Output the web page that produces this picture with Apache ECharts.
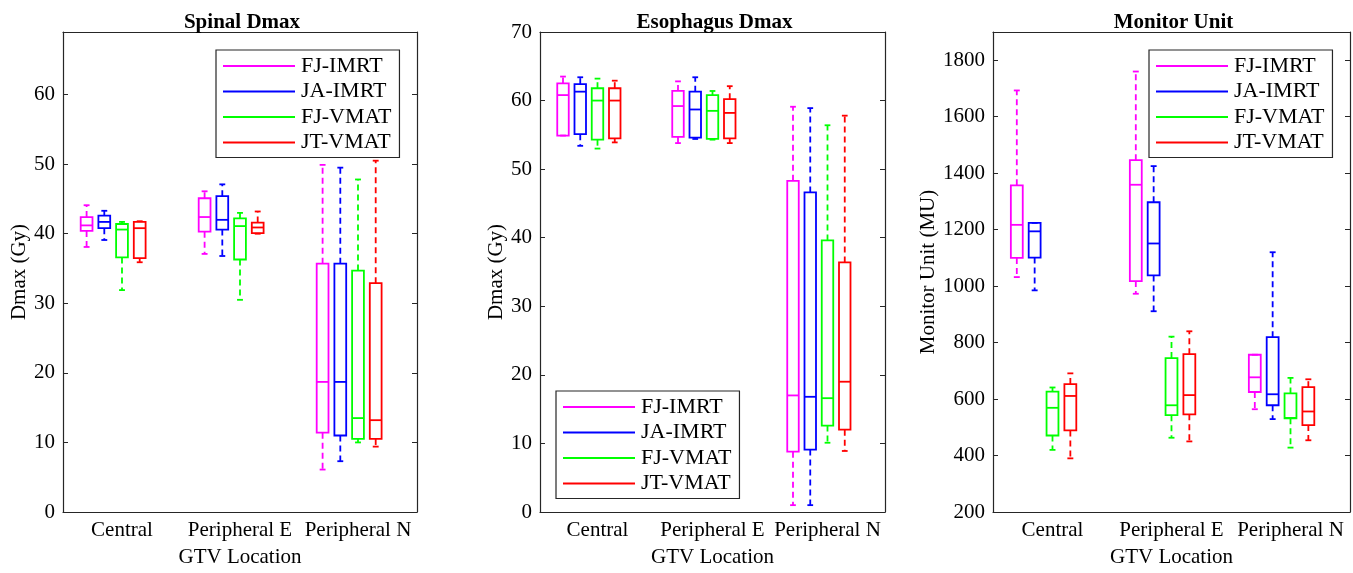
<!DOCTYPE html>
<html>
<head>
<meta charset="utf-8">
<script src="https://cdn.jsdelivr.net/npm/echarts@6/dist/echarts.min.js"></script>
<style>
  html, body { margin: 0; padding: 0; background: #fff; }
  #main { width: 1353px; height: 573px; }
</style>
</head>
<body>
<div id="main"></div>
<script>
const categories = ['Central', 'Peripheral E', 'Peripheral N']
const seriesNames = ['FJ-IMRT', 'JA-IMRT', 'FJ-VMAT', 'JT-VMAT']
const colors = ['#ff00ff', '#0000ff', '#00ff00', '#ff0000']

// each row: [lower whisker, Q1, median, Q3, upper whisker] for one GTV location
const spinalFJIMRT = [[38.1, 40.4, 41.2, 42.4, 44.1], [37.1, 40.3, 42.4, 45.1, 46.1], [6.1, 11.4, 18.7, 35.7, 49.9]]
const spinalJAIMRT = [[39.1, 40.8, 41.7, 42.6, 43.3], [36.8, 40.6, 42.0, 45.4, 47.1], [7.3, 11.0, 18.7, 35.7, 49.5]]
const spinalFJVMAT = [[31.9, 36.6, 40.6, 41.4, 41.7], [30.5, 36.3, 41.1, 42.2, 43.0], [10.0, 10.5, 13.5, 34.7, 47.8]]
const spinalJTVMAT = [[35.9, 36.5, 40.8, 41.7, 41.8], [40.0, 40.1, 40.9, 41.6, 43.2], [9.4, 10.5, 13.2, 32.9, 50.5]]

const esoFJIMRT = [[54.9, 54.9, 60.8, 62.5, 63.5], [53.8, 54.7, 59.2, 61.4, 62.8], [1.0, 8.8, 17.0, 48.3, 59.1]]
const esoJAIMRT = [[53.4, 55.1, 61.3, 62.4, 63.4], [54.4, 54.6, 58.7, 61.3, 63.4], [1.0, 9.1, 16.8, 46.6, 58.9]]
const esoFJVMAT = [[53.0, 54.3, 60.0, 61.8, 63.2], [54.3, 54.4, 58.5, 60.8, 61.4], [10.1, 12.6, 16.6, 39.6, 56.4]]
const esoJTVMAT = [[53.9, 54.5, 60.0, 61.8, 62.9], [53.8, 54.5, 58.2, 60.2, 62.1], [8.9, 12.0, 19.0, 36.4, 57.8]]

const muFJIMRT = [[1032, 1100, 1217, 1357, 1693], [973, 1018, 1359, 1446, 1760], [564, 625, 677, 757, 757]]
const muJAIMRT = [[985, 1101, 1194, 1224, 1224], [911, 1038, 1151, 1297, 1425], [529, 578, 617, 819, 1120]]
const muFJVMAT = [[420, 471, 569, 626, 641], [463, 543, 578, 745, 821], [428, 532, 533, 620, 675]]
const muJTVMAT = [[390, 489, 611, 653, 691], [450, 546, 614, 759, 840], [454, 508, 556, 642, 670]]

const panels = [
  { title: 'Spinal Dmax', yName: 'Dmax (Gy)', min: 0, max: 69, interval: 10, nameGap: 32,
    left: 63, width: 354, data: [spinalFJIMRT, spinalJAIMRT, spinalFJVMAT, spinalJTVMAT],
    legend: { left: 216, top: 50 } },
  { title: 'Esophagus Dmax', yName: 'Dmax (Gy)', min: 0, max: 70, interval: 10, nameGap: 31,
    left: 540, width: 345, data: [esoFJIMRT, esoJAIMRT, esoFJVMAT, esoJTVMAT],
    legend: { left: 556, top: 391 } },
  { title: 'Monitor Unit', yName: 'Monitor Unit (MU)', min: 200, max: 1900, interval: 200, nameGap: 50,
    left: 993, width: 357, data: [muFJIMRT, muJAIMRT, muFJVMAT, muJTVMAT],
    legend: { left: 1149, top: 50 } }
]

const offsets = [-0.3, -0.15, 0, 0.15]
const font = 'Liberation Serif'
const axisColor = '#262626'
const gridTop = 32
const gridHeight = 486

function renderBox(offset) {
  return function (params, api) {
    const cat = api.value(0)
    const bw = api.size([1, 0])[0]
    const x = api.coord([cat, 0])[0] + offset * bw
    const half = bw * 0.05
    const cap = bw * 0.025
    const y = i => api.coord([cat, api.value(i)])[1]
    const lo = y(1), q1 = y(2), med = y(3), q3 = y(4), hi = y(5)
    const color = api.visual('color')
    const solid = { stroke: color, lineWidth: 1.8, fill: null }
    const dashed = { stroke: color, lineWidth: 1.8, lineDash: [6, 4], fill: null }
    return {
      type: 'group',
      children: [
        { type: 'line', shape: { x1: x, y1: q3, x2: x, y2: hi }, style: dashed },
        { type: 'line', shape: { x1: x, y1: q1, x2: x, y2: lo }, style: dashed },
        { type: 'line', shape: { x1: x - cap, y1: hi, x2: x + cap, y2: hi }, style: solid },
        { type: 'line', shape: { x1: x - cap, y1: lo, x2: x + cap, y2: lo }, style: solid },
        { type: 'rect', shape: { x: x - half, y: q3, width: half * 2, height: q1 - q3 },
          style: { stroke: color, lineWidth: 1.8, fill: 'none' } },
        { type: 'line', shape: { x1: x - half, y1: med, x2: x + half, y2: med }, style: solid }
      ]
    }
  }
}

const grids = []
const xAxes = []
const yAxes = []
const series = []
const titles = []
const legends = []

panels.forEach((p, k) => {
  grids.push({ left: p.left, top: gridTop, width: p.width, height: gridHeight })
  titles.push({
    text: p.title, left: p.left + p.width / 2 - 3, top: 7, textAlign: 'center',
    textStyle: { fontFamily: font, fontSize: 21, fontWeight: 'bold', color: '#000' }
  })
  legends.push({
    left: p.legend.left, top: p.legend.top, orient: 'vertical',
    data: seriesNames, icon: 'rect', itemWidth: 72, itemHeight: 2, itemGap: 3.5,
    padding: [5, 8, 4, 7], borderColor: axisColor, borderWidth: 1.2, backgroundColor: '#fff',
    selectedMode: false,
    textStyle: { fontFamily: font, fontSize: 22, color: '#000', padding: [0, 0, 0, 1] }
  })
})

// bottom x axes, then mirrored top ones
panels.forEach((p, k) => {
  xAxes.push({
    type: 'category', gridIndex: k, data: categories, position: 'bottom',
    name: 'GTV Location', nameLocation: 'middle', nameGap: 35,
    nameTextStyle: { fontFamily: font, fontSize: 21, color: '#000' },
    axisLine: { onZero: false, lineStyle: { color: axisColor, width: 1.2 } },
    axisTick: { inside: true, alignWithLabel: true, length: 5, lineStyle: { color: axisColor } },
    axisLabel: { interval: 0, hideOverlap: false, fontFamily: font, fontSize: 21, color: '#000', margin: 8 },
    splitLine: { show: false }
  })
})
panels.forEach((p, k) => {
  xAxes.push({
    type: 'category', gridIndex: k, data: categories, position: 'top',
    axisLine: { onZero: false, lineStyle: { color: axisColor, width: 1.2 } },
    axisTick: { inside: true, alignWithLabel: true, length: 5, lineStyle: { color: axisColor } },
    axisLabel: { show: false }, splitLine: { show: false }
  })
})
panels.forEach((p, k) => {
  yAxes.push({
    type: 'value', gridIndex: k, min: p.min, max: p.max, interval: p.interval, position: 'left',
    name: p.yName, nameLocation: 'middle', nameGap: p.nameGap,
    nameTextStyle: { fontFamily: font, fontSize: 21, color: '#000' },
    axisLine: { show: true, onZero: false, lineStyle: { color: axisColor, width: 1.2 } },
    axisTick: { show: true, inside: true, length: 5, lineStyle: { color: axisColor } },
    axisLabel: {
      fontFamily: font, fontSize: 21, color: '#000', margin: 8,
      showMaxLabel: p.max % p.interval === 0,
      formatter: v => String(v)
    },
    splitLine: { show: false }
  })
})
panels.forEach((p, k) => {
  yAxes.push({
    type: 'value', gridIndex: k, min: p.min, max: p.max, interval: p.interval, position: 'right',
    axisLine: { show: true, onZero: false, lineStyle: { color: axisColor, width: 1.2 } },
    axisTick: { show: true, inside: true, length: 5, lineStyle: { color: axisColor } },
    axisLabel: { show: false }, splitLine: { show: false }
  })
})

panels.forEach((p, k) => {
  p.data.forEach((rows, s) => {
    series.push({
      type: 'custom',
      name: seriesNames[s],
      xAxisIndex: k,
      yAxisIndex: k,
      itemStyle: { color: colors[s] },
      encode: { x: 0, y: [1, 2, 3, 4, 5] },
      renderItem: renderBox(offsets[s]),
      data: rows.map((r, i) => [i].concat(r)),
      silent: true
    })
  })
})

const chart = echarts.init(document.getElementById('main'))
chart.setOption({
  animation: false,
  backgroundColor: '#fff',
  color: colors,
  title: titles,
  legend: legends,
  grid: grids,
  xAxis: xAxes,
  yAxis: yAxes,
  series: series
})
</script>
</body>
</html>
